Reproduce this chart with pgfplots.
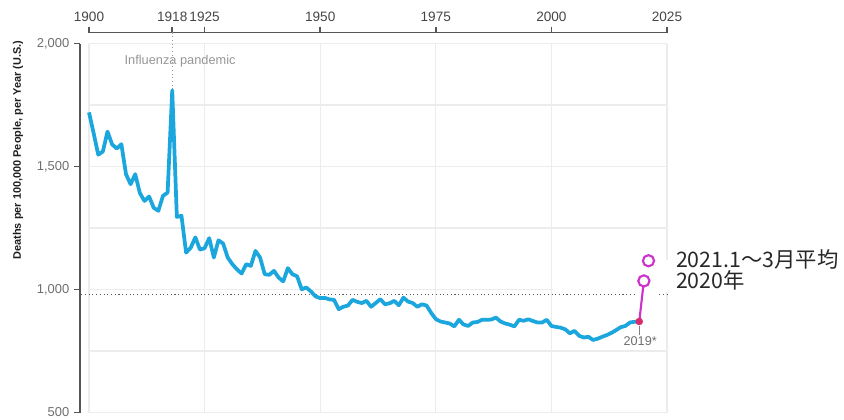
\documentclass[border=0pt]{standalone}
\usepackage{pgfplots}
\pgfplotsset{compat=1.18}
\usepackage{fontspec}
\setmainfont{Liberation Sans}
\newfontfamily\cjk{Noto Sans CJK JP}

\definecolor{linec}{RGB}{27,166,221}
\definecolor{magc}{RGB}{204,51,204}
\definecolor{dotc}{RGB}{214,45,110}
\definecolor{gridc}{RGB}{236,236,236}
\definecolor{axisc}{RGB}{85,85,85}
\definecolor{xlabc}{RGB}{70,70,70}
\definecolor{ylabc}{RGB}{110,110,110}
\definecolor{notec}{RGB}{150,150,150}

\begin{document}
\begin{tikzpicture}
\begin{axis}[
    name=ax,
    scale only axis,
    width=433.5pt, height=276.75pt,
    xmin=1900, xmax=2025,
    ymin=500, ymax=2000,
    axis x line=top, axis y line=left,
    axis x line shift=8.25pt, axis y line shift=6.75pt,
    axis line style={-, draw=axisc, line width=1.1pt},
    tick align=outside,
    major tick length=4.5pt,
    major tick style={axisc, line width=1.1pt},
    xtick={1900,1918,1925,1950,1975,2000,2025},
    ytick={500,1000,1500,2000},
    minor xtick={1900,1925,1950,1975,2000,2025},
    minor ytick={500,750,1000,1250,1500,1750,2000},
    minor tick length=0pt,
    xminorgrids=true, yminorgrids=true,
    minor grid style={gridc, line width=0.8pt},
    clip=false,
    /pgf/number format/assume math mode=true,
    xticklabel style={font=\fontsize{10.2}{12}\selectfont, text=xlabc, /pgf/number format/1000 sep={}},
    yticklabel style={font=\fontsize{9.7}{12}\selectfont, text=ylabc, /pgf/number format/1000 sep={,}},
  ]

  % white patch behind the labels
  \fill[white] (axis cs:2000.3,988) rectangle (axis cs:2030,1118);

  % reference line near 1,000
  \draw[axisc, dotted, line width=0.8pt] (axis cs:1898.3,980) -- (axis cs:2017.9,980);
  \draw[axisc, dotted, line width=0.8pt] (axis cs:2023.3,980) -- (axis cs:2025,980);

  % 1918 marker
  \draw[notec, dotted, line width=0.8pt] (axis cs:1918,2045) -- (axis cs:1918,1815);
  \node[text=notec, font=\fontsize{9.6}{11}\selectfont] at (axis cs:1919.7,1927) {Influenza pandemic};

  \addplot[linec, line width=2.8pt, line join=round] coordinates {
    (1900,1720) (1901,1636) (1902,1548) (1903,1561) (1904,1642) (1905,1590)
    (1906,1573) (1907,1591) (1908,1469) (1909,1428) (1910,1469) (1911,1392)
    (1912,1360) (1913,1378) (1914,1332) (1915,1320) (1916,1381) (1917,1394)
    (1918,1810) (1919,1295) (1920,1300) (1921,1150) (1922,1170) (1923,1212)
    (1924,1162) (1925,1168) (1926,1209) (1927,1130) (1928,1200) (1929,1187)
    (1930,1130) (1931,1103) (1932,1082) (1933,1065) (1934,1103) (1935,1096)
    (1936,1157) (1937,1130) (1938,1062) (1939,1060) (1940,1076) (1941,1049)
    (1942,1033) (1943,1087) (1944,1062) (1945,1054) (1946,1001) (1947,1008)
    (1948,992) (1949,972) (1950,965) (1951,966) (1952,960) (1953,958)
    (1954,920) (1955,930) (1956,935) (1957,958) (1958,950) (1959,945)
    (1960,954) (1961,930) (1962,945) (1963,961) (1964,940) (1965,944)
    (1966,954) (1967,936) (1968,967) (1969,951) (1970,945) (1971,930)
    (1972,940) (1973,935) (1974,905) (1975,880) (1976,870) (1977,866)
    (1978,862) (1979,850) (1980,877) (1981,858) (1982,852) (1983,866)
    (1984,868) (1985,877) (1986,877) (1987,878) (1988,886) (1989,870)
    (1990,862) (1991,857) (1992,850) (1993,877) (1994,873) (1995,879)
    (1996,872) (1997,866) (1998,866) (1999,877) (2000,852) (2001,848)
    (2002,845) (2003,838) (2004,822) (2005,832) (2006,812) (2007,805)
    (2008,808) (2009,795) (2010,800) (2011,808) (2012,815) (2013,824)
    (2014,835) (2015,847) (2016,852) (2017,866) (2018,869) (2019,870)
  };

  % 2019 -> 2020 jump
  \addplot[magc, line width=1.6pt] coordinates {(2019,870) (2020,1035)};
  \draw[gray, line width=0.6pt] (axis cs:2019,850) -- (axis cs:2019,815);
  \addplot[only marks, mark=*, mark size=2.6pt, dotc] coordinates {(2019,870)};
  \addplot[only marks, mark=*, mark size=4.2pt, mark options={draw=magc, fill=white, line width=1.6pt}]
    coordinates {(2020,1035) (2021,1117)};

  \node[text=ylabc, font=\fontsize{9.5}{11}\selectfont] at (axis cs:2019.2,789) {2019*};

  \node[anchor=west, inner sep=0pt, text={rgb,255:red,40;green,40;blue,40}, font=\cjk\fontsize{16}{18}\selectfont]
    at (axis cs:2026.9,1122) {2021.1～3月平均};
  \node[anchor=west, inner sep=0pt, text={rgb,255:red,40;green,40;blue,40}, font=\cjk\fontsize{16}{18}\selectfont]
    at (axis cs:2026.9,1037) {2020年};

  \node[rotate=90, font=\bfseries\fontsize{8.2}{9}\selectfont, text={rgb,255:red,30;green,30;blue,30}]
    at (rel axis cs:-0.1228,0.7114) {Deaths per 100,000 People, per Year (U.S.)};
\end{axis}
\pgfresetboundingbox
\path ([shift={(-66.75pt,-5.6pt)}]ax.south west) rectangle ([shift={(566.25pt,309.4pt)}]ax.south west);
\end{tikzpicture}
\end{document}
